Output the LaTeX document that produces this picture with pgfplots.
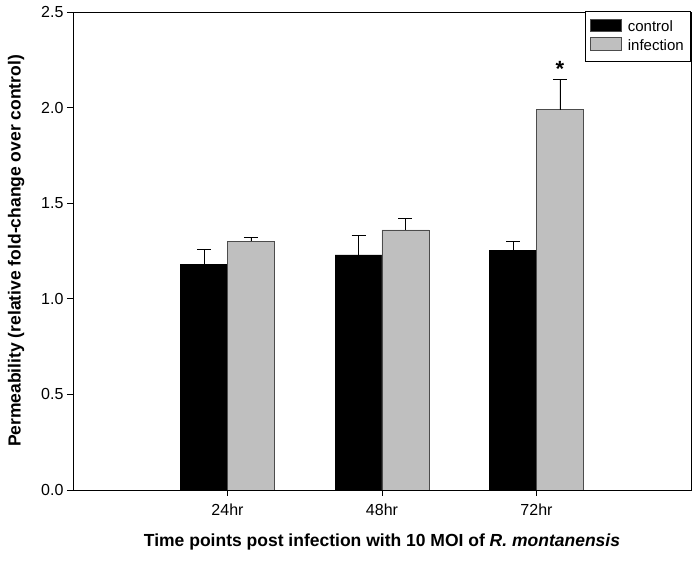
\documentclass[border=0pt]{standalone}
\usepackage{pgfplots}
\pgfplotsset{compat=1.18}
\usepackage{fontspec}
\setmainfont{Liberation Sans}
\begin{document}
\begin{tikzpicture}
\begin{axis}[
  scale only axis,
  width=618pt, height=478pt,
  xmin=0, xmax=4, ymin=0, ymax=2.5,
  xtick={1,2,3}, xticklabels={24hr,48hr,72hr},
  ytick={0,0.5,1,1.5,2,2.5},
  yticklabel style={/pgf/number format/fixed,/pgf/number format/fixed zerofill,/pgf/number format/precision=1},
  /pgf/number format/assume math mode=true,
  tick align=outside, major tick length=6pt,
  xtick pos=bottom, ytick pos=left,
  axis line style={line width=0.8pt},
  tick style={line width=0.8pt, black},
  ticklabel style={font=\fontsize{16}{18}\selectfont},
  xticklabel style={yshift=-4pt},
  xlabel={\textbf{Time points post infection with 10 MOI of \textit{R. montanensis}}},
  ylabel={\textbf{Permeability (relative fold-change over control)}},
  label style={font=\fontsize{17.5}{20}\selectfont},
  xlabel style={yshift=-12pt},
  ylabel style={yshift=10pt},
  legend style={at={(1,1.003)}, anchor=north east, draw=black, line width=0.6pt,
    font=\fontsize{15}{17}\selectfont, inner xsep=5pt, inner ysep=8pt, row sep=2pt,
    cells={anchor=west}},
  legend image code/.code={\draw[#1, draw=black!70, line width=0.5pt] (0pt,-4.5pt) rectangle (31pt,8pt);
    \path (35pt,0pt);},
]
\addplot[fill=black, draw=black, bar width=47pt, ybar, bar shift=0pt,
  error bars/.cd, y dir=plus, y explicit,
  error bar style={black, line width=0.8pt},
  error mark options={rotate=90, mark size=7pt, black, line width=0.8pt}]
  coordinates {(0.8484,1.18) +- (0,0.08) (1.8484,1.23) +- (0,0.10) (2.8484,1.255) +- (0,0.045)};
\addlegendentry{control}
\addplot[fill=black!25, draw=black!70, line width=0.8pt, bar width=47pt, ybar, bar shift=0pt,
  error bars/.cd, y dir=plus, y explicit,
  error bar style={black, line width=0.8pt},
  error mark options={rotate=90, mark size=7pt, black, line width=0.8pt}]
  coordinates {(1.1516,1.30) +- (0,0.02) (2.1516,1.36) +- (0,0.06) (3.1516,1.99) +- (0,0.155)};
\addlegendentry{infection}
\node[font=\fontsize{22}{22}\selectfont\bfseries] at (axis cs:3.1516,2.2) {*};
\end{axis}
\pgfresetboundingbox
\path (current axis.south west) ++(-73pt,-73pt) coordinate (bl);
\path (current axis.north east) ++(6pt,12pt) coordinate (tr);
\useasboundingbox (bl) rectangle (tr);
\end{tikzpicture}
\end{document}
